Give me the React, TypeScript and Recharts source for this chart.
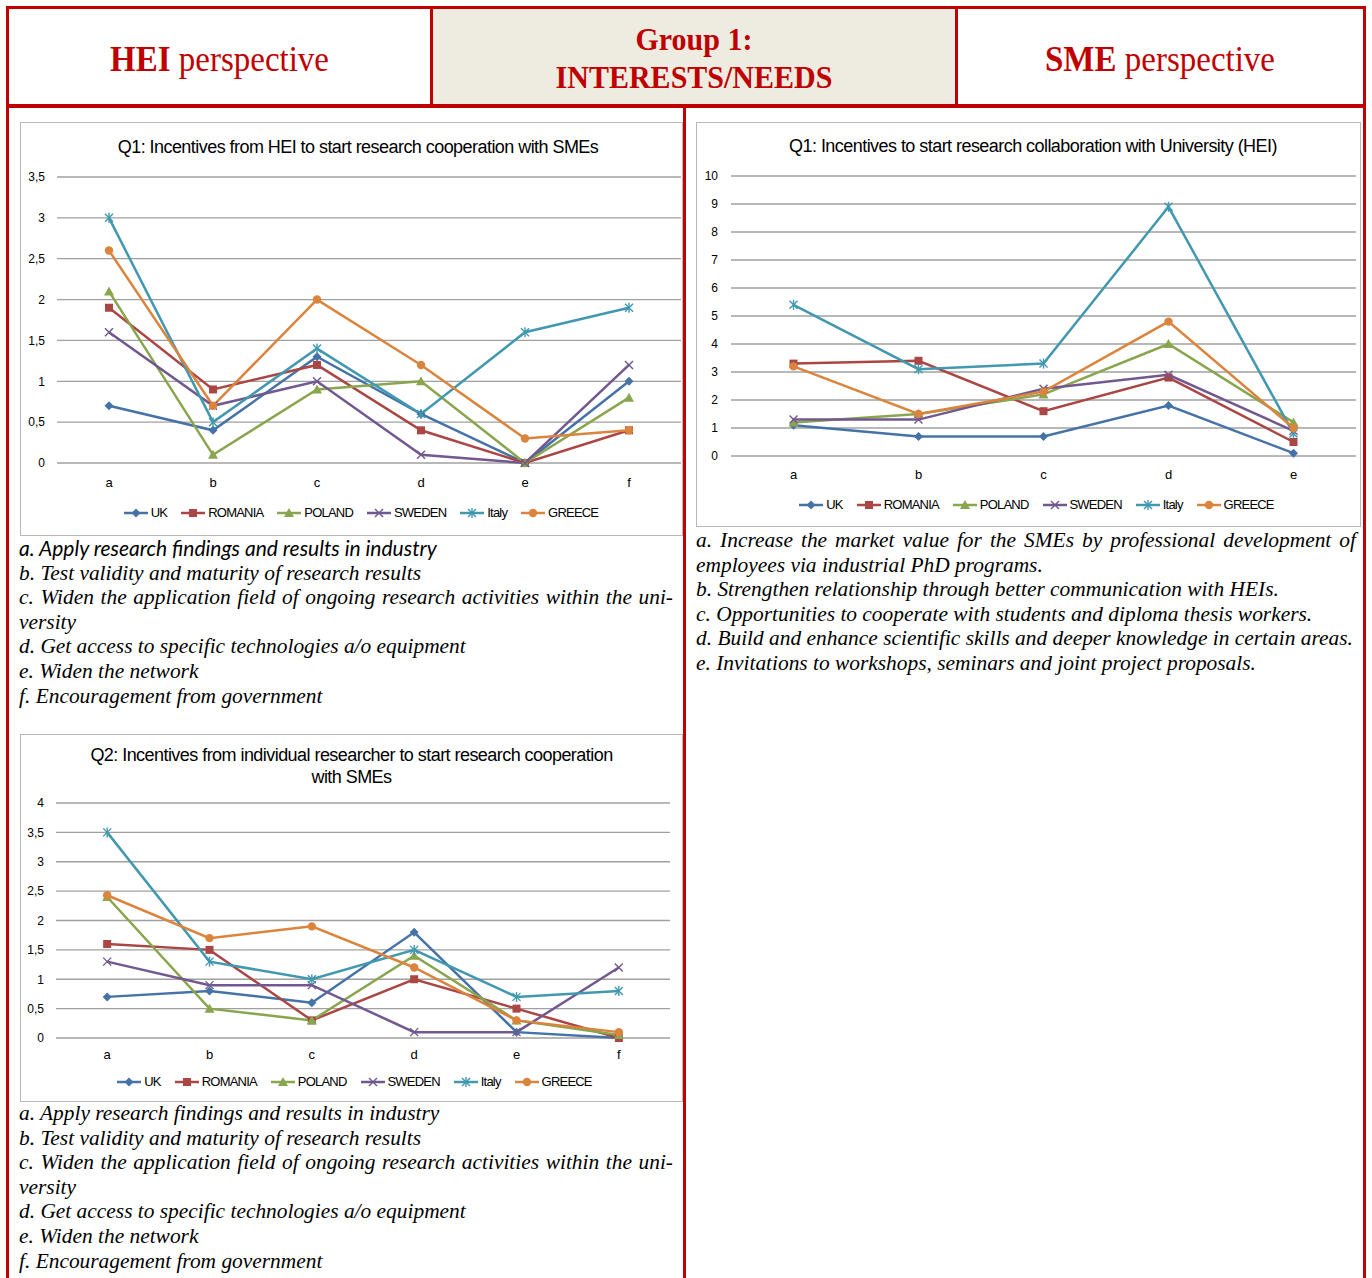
import { LineChart, Line, XAxis, YAxis, CartesianGrid, Legend } from "recharts";

const RED = "#C00000";
const SANS = "'Liberation Sans', Arial, sans-serif";
const SERIF = "'Liberation Serif', 'Times New Roman', serif";

// countries shown in every chart, same colours and markers throughout
const countries = ["UK", "ROMANIA", "POLAND", "SWEDEN", "Italy", "GREECE"];
const countryColors = ["#4572A7", "#AA4643", "#89A54E", "#71588F", "#4198AF", "#DB843D"];
const countryMarkers = ["diamond", "square", "triangle", "cross", "star", "circle"];

// Q1 – HEI side
const q1HeiCategories = ["a", "b", "c", "d", "e", "f"];
const q1HeiUK = [0.7, 0.4, 1.3, 0.6, 0, 1.0];
const q1HeiRomania = [1.9, 0.9, 1.2, 0.4, 0, 0.4];
const q1HeiPoland = [2.1, 0.1, 0.9, 1.0, 0, 0.8];
const q1HeiSweden = [1.6, 0.7, 1.0, 0.1, 0, 1.2];
const q1HeiItaly = [3.0, 0.5, 1.4, 0.6, 1.6, 1.9];
const q1HeiGreece = [2.6, 0.7, 2.0, 1.2, 0.3, 0.4];
const q1HeiTicks = [0, 0.5, 1, 1.5, 2, 2.5, 3, 3.5];

// Q2 – individual researcher
const q2HeiCategories = ["a", "b", "c", "d", "e", "f"];
const q2HeiUK = [0.7, 0.8, 0.6, 1.8, 0.1, 0];
const q2HeiRomania = [1.6, 1.5, 0.3, 1.0, 0.5, 0];
const q2HeiPoland = [2.4, 0.5, 0.3, 1.4, 0.3, 0.05];
const q2HeiSweden = [1.3, 0.9, 0.9, 0.1, 0.1, 1.2];
const q2HeiItaly = [3.5, 1.3, 1.0, 1.5, 0.7, 0.8];
const q2HeiGreece = [2.43, 1.7, 1.9, 1.2, 0.3, 0.1];
const q2HeiTicks = [0, 0.5, 1, 1.5, 2, 2.5, 3, 3.5, 4];

// Q1 – SME side
const q1SmeCategories = ["a", "b", "c", "d", "e"];
const q1SmeUK = [1.1, 0.7, 0.7, 1.8, 0.1];
const q1SmeRomania = [3.3, 3.4, 1.6, 2.8, 0.5];
const q1SmePoland = [1.2, 1.5, 2.2, 4.0, 1.2];
const q1SmeSweden = [1.3, 1.3, 2.4, 2.9, 0.9];
const q1SmeItaly = [5.4, 3.1, 3.3, 8.9, 0.8];
const q1SmeGreece = [3.2, 1.5, 2.3, 4.8, 1.0];
const q1SmeTicks = [0, 1, 2, 3, 4, 5, 6, 7, 8, 9, 10];

const heiNotes = [
  "a. Apply research findings and results in industry",
  "b. Test validity and maturity of research results",
  "c. Widen the application field of ongoing research activities within the uni-",
  "versity",
  "d. Get access to specific technologies a/o equipment",
  "e. Widen the network",
  "f. Encouragement from government",
];

const smeNotes = [
  "a. Increase the market value for the SMEs by professional development of",
  "employees via industrial PhD programs.",
  "b. Strengthen relationship through better communication with HEIs.",
  "c. Opportunities to cooperate with students and diploma thesis workers.",
  "d. Build and enhance scientific skills and deeper knowledge in certain areas.",
  "e. Invitations to workshops, seminars and joint project proposals.",
];

function buildRows(categories: string[], series: number[][]) {
  return categories.map((cat, i) => {
    const row: Record<string, any> = { cat };
    countries.forEach((c, k) => {
      row[c] = series[k][i];
    });
    return row;
  });
}

function Marker({ shape, cx, cy, color }: { shape: string; cx: number; cy: number; color: string }) {
  if (cx == null || cy == null) return null;
  switch (shape) {
    case "diamond":
      return <polygon points={`${cx},${cy - 4.5} ${cx + 4.5},${cy} ${cx},${cy + 4.5} ${cx - 4.5},${cy}`} fill={color} />;
    case "square":
      return <rect x={cx - 4} y={cy - 4} width={8} height={8} fill={color} />;
    case "triangle":
      return <polygon points={`${cx},${cy - 5} ${cx + 5},${cy + 4} ${cx - 5},${cy + 4}`} fill={color} />;
    case "cross":
      return (
        <g stroke={color} strokeWidth={1.4}>
          <line x1={cx - 4} y1={cy - 4} x2={cx + 4} y2={cy + 4} />
          <line x1={cx - 4} y1={cy + 4} x2={cx + 4} y2={cy - 4} />
        </g>
      );
    case "star":
      return (
        <g stroke={color} strokeWidth={1.4}>
          <line x1={cx - 4} y1={cy - 4} x2={cx + 4} y2={cy + 4} />
          <line x1={cx - 4} y1={cy + 4} x2={cx + 4} y2={cy - 4} />
          <line x1={cx} y1={cy - 5} x2={cx} y2={cy + 5} />
        </g>
      );
    default:
      return <circle cx={cx} cy={cy} r={4.2} fill={color} />;
  }
}

function LegendRow({ shift }: { shift: number }) {
  return (
    <div
      style={{
        display: "flex",
        justifyContent: "center",
        gap: 14,
        paddingLeft: shift,
        fontFamily: SANS,
        fontSize: 13,
        letterSpacing: -0.8,
        color: "#000",
      }}
    >
      {countries.map((c, i) => (
        <span key={c} style={{ display: "flex", alignItems: "center" }}>
          <svg width={24} height={12}>
            <line x1={0} y1={6} x2={24} y2={6} stroke={countryColors[i]} strokeWidth={2.5} />
            <Marker shape={countryMarkers[i]} cx={12} cy={6} color={countryColors[i]} />
          </svg>
          <span style={{ marginLeft: 3 }}>{c}</span>
        </span>
      ))}
    </div>
  );
}

type ChartProps = {
  rows: any[];
  width: number;
  height: number;
  margin: { top: number; right: number; bottom: number; left: number };
  yWidth: number;
  ticks: number[];
  xTickMargin: number;
  yTickMargin: number;
  legendTop: number;
  legendShift: number;
};

function CountryChart(p: ChartProps) {
  const plotWidth = p.width - p.margin.left - p.margin.right - p.yWidth;
  const pad = plotWidth / (2 * p.rows.length);
  return (
    <LineChart width={p.width} height={p.height} data={p.rows} margin={p.margin}>
      <CartesianGrid vertical={false} stroke="#a0a0a0" strokeWidth={1.3} />
      <XAxis
        dataKey="cat"
        axisLine={false}
        tickLine={false}
        height={20}
        interval={0}
        padding={{ left: pad, right: pad }}
        tickMargin={p.xTickMargin}
        tick={{ fill: "#000", fontSize: 13, fontFamily: SANS }}
      />
      <YAxis
        width={p.yWidth}
        domain={[p.ticks[0], p.ticks[p.ticks.length - 1]]}
        ticks={p.ticks}
        interval={0}
        axisLine={false}
        tickLine={false}
        tickMargin={p.yTickMargin}
        tickFormatter={(v: number) => String(v).replace(".", ",")}
        tick={{ fill: "#000", fontSize: 12, fontFamily: SANS }}
      />
      <Legend
        layout="horizontal"
        verticalAlign="middle"
        align="center"
        width={p.width}
        wrapperStyle={{ top: p.legendTop, left: 0 }}
        content={() => <LegendRow shift={p.legendShift} />}
      />
      {countries.map((c, i) => (
        <Line
          key={c}
          dataKey={c}
          name={c}
          type="linear"
          stroke={countryColors[i]}
          strokeWidth={2.5}
          activeDot={false}
          isAnimationActive={false}
          dot={(d: any) => (
            <Marker key={`${c}-${d.index}`} shape={countryMarkers[i]} cx={d.cx} cy={d.cy} color={countryColors[i]} />
          )}
        />
      ))}
    </LineChart>
  );
}

const titleStyle: React.CSSProperties = {
  position: "absolute",
  left: 0,
  width: "100%",
  textAlign: "center",
  fontFamily: SANS,
  fontSize: 18,
  letterSpacing: -0.55,
  color: "#000",
  lineHeight: "22px",
};

const noteStyle: React.CSSProperties = {
  fontFamily: SERIF,
  fontStyle: "italic",
  fontSize: 21.4,
  lineHeight: "24.6px",
  color: "#000",
  whiteSpace: "nowrap",
};

function Notes({ lines, left, top, width, sansFirst }: { lines: string[]; left: number; top: number; width: number; sansFirst?: boolean }) {
  return (
    <div style={{ position: "absolute", left, top, width }}>
      {lines.map((t, i) => {
        const justify = t.endsWith("uni-") || t.endsWith("development of");
        const style: React.CSSProperties = { ...noteStyle };
        if (justify) {
          style.whiteSpace = "normal";
          style.textAlign = "justify";
          style.textAlignLast = "justify";
        }
        if (sansFirst && i === 0) {
          style.fontFamily = "Lato, 'Noto Sans', sans-serif";
          style.fontSize = 21;
        }
        return (
          <div key={i} style={style}>
            {t}
          </div>
        );
      })}
    </div>
  );
}

const frameStyle = (left: number, top: number, width: number, height: number): React.CSSProperties => ({
  position: "absolute",
  left,
  top,
  width,
  height,
  boxSizing: "border-box",
  border: "1px solid #b8b8b8",
  background: "#fff",
});

export default function App() {
  const q1HeiRows = buildRows(q1HeiCategories, [q1HeiUK, q1HeiRomania, q1HeiPoland, q1HeiSweden, q1HeiItaly, q1HeiGreece]);
  const q2HeiRows = buildRows(q2HeiCategories, [q2HeiUK, q2HeiRomania, q2HeiPoland, q2HeiSweden, q2HeiItaly, q2HeiGreece]);
  const q1SmeRows = buildRows(q1SmeCategories, [q1SmeUK, q1SmeRomania, q1SmePoland, q1SmeSweden, q1SmeItaly, q1SmeGreece]);

  const headText: React.CSSProperties = {
    fontFamily: SERIF,
    color: RED,
    fontSize: 33,
    lineHeight: "38px",
    textAlign: "center",
    transform: "scaleY(1.08)",
  };

  return (
    <div style={{ position: "absolute", left: 0, top: 0, width: 1372, height: 1278, overflow: "hidden", background: "#fff" }}>
      {/* outer frame */}
      <div style={{ position: "absolute", left: 6, top: 6, width: 1360, height: 1300, boxSizing: "border-box", borderLeft: `3px solid ${RED}`, borderRight: `3px solid ${RED}`, borderTop: `3px solid ${RED}` }} />
      {/* header row */}
      <div style={{ position: "absolute", left: 433, top: 9, width: 522, height: 95, background: "#EEEBE0" }} />
      <div style={{ position: "absolute", left: 6, top: 104, width: 1360, height: 4, background: RED }} />
      <div style={{ position: "absolute", left: 430, top: 6, width: 3, height: 100, background: RED }} />
      <div style={{ position: "absolute", left: 955, top: 6, width: 3, height: 100, background: RED }} />
      <div style={{ position: "absolute", left: 683, top: 106, width: 3, height: 1200, background: RED }} />

      <div style={{ position: "absolute", left: 9, top: 11, width: 421, height: 95, display: "flex", alignItems: "center", justifyContent: "center" }}>
        <div style={headText}>
          <b>HEI</b> perspective
        </div>
      </div>
      <div style={{ position: "absolute", left: 433, top: 10, width: 522, height: 95, display: "flex", alignItems: "center", justifyContent: "center" }}>
        <div style={{ ...headText, fontSize: 30, lineHeight: "35px", fontWeight: "bold" }}>
          Group 1:
          <br />
          INTERESTS/NEEDS
        </div>
      </div>
      <div style={{ position: "absolute", left: 958, top: 11, width: 404, height: 95, display: "flex", alignItems: "center", justifyContent: "center" }}>
        <div style={headText}>
          <b>SME</b> perspective
        </div>
      </div>

      {/* Q1 HEI */}
      <div style={frameStyle(20, 122, 663, 414)}>
        <div style={{ ...titleStyle, top: 13, paddingLeft: 13, boxSizing: "border-box" }}>
          Q1: Incentives from HEI to start research cooperation with SMEs
        </div>
        <div style={{ position: "absolute", left: -1, top: -1 }}>
          <CountryChart
            rows={q1HeiRows}
            width={663}
            height={414}
            margin={{ top: 55, right: 2, bottom: 53, left: 0 }}
            yWidth={37}
            ticks={q1HeiTicks}
            xTickMargin={9}
            yTickMargin={6}
            legendTop={383}
            legendShift={19}
          />
        </div>
      </div>
      <Notes lines={heiNotes} left={19} top={536} width={654} sansFirst />

      {/* Q2 HEI */}
      <div style={frameStyle(20, 734, 663, 368)}>
        <div style={{ ...titleStyle, top: 9 }}>
          Q2: Incentives from individual researcher to start research cooperation
          <br />
          with SMEs
        </div>
        <div style={{ position: "absolute", left: -1, top: -1 }}>
          <CountryChart
            rows={q2HeiRows}
            width={663}
            height={368}
            margin={{ top: 69, right: 13, bottom: 44, left: 0 }}
            yWidth={36}
            ticks={q2HeiTicks}
            xTickMargin={6}
            yTickMargin={6}
            legendTop={340}
            legendShift={6}
          />
        </div>
      </div>
      <Notes lines={heiNotes} left={19} top={1101} width={654} />

      {/* Q1 SME */}
      <div style={frameStyle(696, 122, 665, 405)}>
        <div style={{ ...titleStyle, top: 12, paddingLeft: 9, boxSizing: "border-box" }}>
          Q1: Incentives to start research collaboration with University (HEI)
        </div>
        <div style={{ position: "absolute", left: -1, top: -1 }}>
          <CountryChart
            rows={q1SmeRows}
            width={665}
            height={405}
            margin={{ top: 54, right: 5, bottom: 51, left: 0 }}
            yWidth={35}
            ticks={q1SmeTicks}
            xTickMargin={8}
            yTickMargin={7}
            legendTop={375}
            legendShift={16}
          />
        </div>
      </div>
      <Notes lines={smeNotes} left={696} top={528} width={660} />
    </div>
  );
}
